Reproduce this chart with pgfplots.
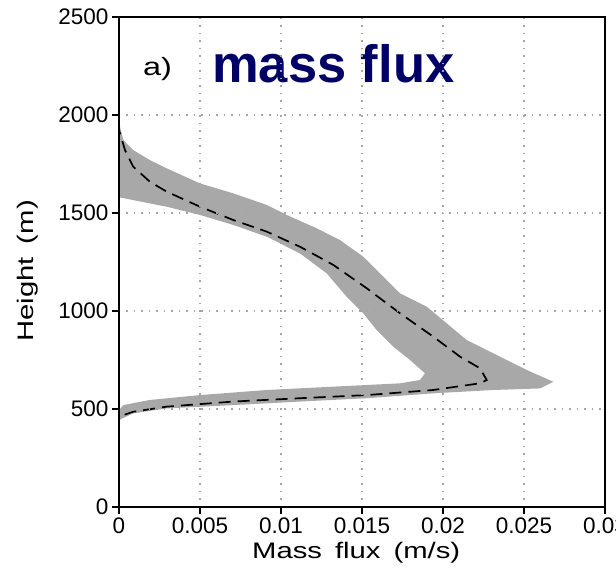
\documentclass[border=0pt]{standalone}
\usepackage{pgfplots}
\pgfplotsset{compat=1.18}
\usepackage{fontspec}
\setmainfont{Liberation Sans}
\newfontfamily\labelfont[FakeStretch=1.3,WordSpace=1.6]{Liberation Sans}
\definecolor{bandgray}{RGB}{168,168,168}
\definecolor{navy}{RGB}{0,0,102}
\definecolor{gridgray}{RGB}{165,165,165}
\begin{document}
\begin{tikzpicture}
\begin{axis}[
  scale only axis, width=486pt, height=490pt,
  xmin=0, xmax=0.03, ymin=0, ymax=2500,
  scaled x ticks=false, scaled y ticks=false,
  xtick={0,0.005,0.01,0.015,0.02,0.025,0.03},
  xticklabels={0,0.005,0.01,0.015,0.02,0.025,0.03},
  ytick={0,500,1000,1500,2000,2500},
  yticklabels={0,500,1000,1500,2000,2500},
  tick pos=left,
  tick align=outside,
  major tick length=7pt,
  every tick/.style={black, line width=2pt},
  grid=major,
  grid style={gridgray, line width=1.5pt, dash pattern=on 1.5pt off 6pt},
  axis line style={black, line width=2.2pt},
  axis on top,
  tick label style={font=\fontsize{22.5}{24}\selectfont},
  /pgf/number format/assume math mode=true,
  every axis x label/.style={at={(rel axis cs:0.488,0)}, yshift=-46pt, anchor=center},
  every axis y label/.style={at={(rel axis cs:0,0.482)}, xshift=-91pt, rotate=90, anchor=center},
  label style={font=\labelfont\fontsize{22.5}{24}\selectfont},
  xlabel={Mass flux (m/s)},
  ylabel={Height (m)},
]
\addplot[fill=bandgray, draw=none] coordinates {
 (0,1960) (0.00027,1872) (0.00088,1821) (0.0019,1770) (0.00294,1728) (0.005,1651)
 (0.00706,1600) (0.00912,1541) (0.01035,1490) (0.0122,1422) (0.01364,1362)
 (0.01508,1277) (0.01631,1175) (0.01735,1090) (0.019,1022) (0.02023,937)
 (0.02146,852) (0.02311,784) (0.02517,699) (0.02681,639) (0.026,605)
 (0.02311,597) (0.0194,580) (0.01529,555) (0.01117,538) (0.00706,520)
 (0.00294,503) (0.00088,478) (0,444)
 (0,495) (0.00027,520) (0.0019,546) (0.005,571) (0.00912,597) (0.01323,614)
 (0.01735,631) (0.01858,648) (0.01889,682) (0.01796,750) (0.01693,818)
 (0.0159,903) (0.01508,988) (0.01405,1073) (0.01282,1192) (0.01117,1294)
 (0.00912,1379) (0.00706,1439) (0.005,1490) (0.00294,1532) (0.00088,1566) (0,1580)
} -- cycle;
\addplot[black, line width=1.7pt, dash pattern=on 12pt off 7pt] coordinates {
 (0,0) (0,444) (0.00027,469) (0.00088,486) (0.00294,512) (0.00706,538)
 (0.01117,555) (0.01529,571) (0.0194,597) (0.02228,631) (0.0227,648)
 (0.02228,708) (0.02105,767) (0.0194,869) (0.01735,988) (0.01529,1116)
 (0.01323,1235) (0.01117,1328) (0.00912,1405) (0.00706,1464) (0.005,1532)
 (0.00294,1609) (0.0019,1660) (0.00088,1736) (0.00037,1821) (0,1923) (0,2100)
};
\node[anchor=base west, inner sep=0, text=navy, font=\fontsize{52.5}{56}\selectfont\bfseries] at (axis cs:0.00574,2168) {mass flux};
\node[anchor=base west, inner sep=0, font=\labelfont\fontsize{25}{27}\selectfont] at (axis cs:0.00148,2204) {a)};
\coordinate (bl) at (rel axis cs:0,0);
\end{axis}
\pgfresetboundingbox
\path ([xshift=-119pt,yshift=-64pt]bl) rectangle ++(616pt,571pt);
\end{tikzpicture}
\end{document}
